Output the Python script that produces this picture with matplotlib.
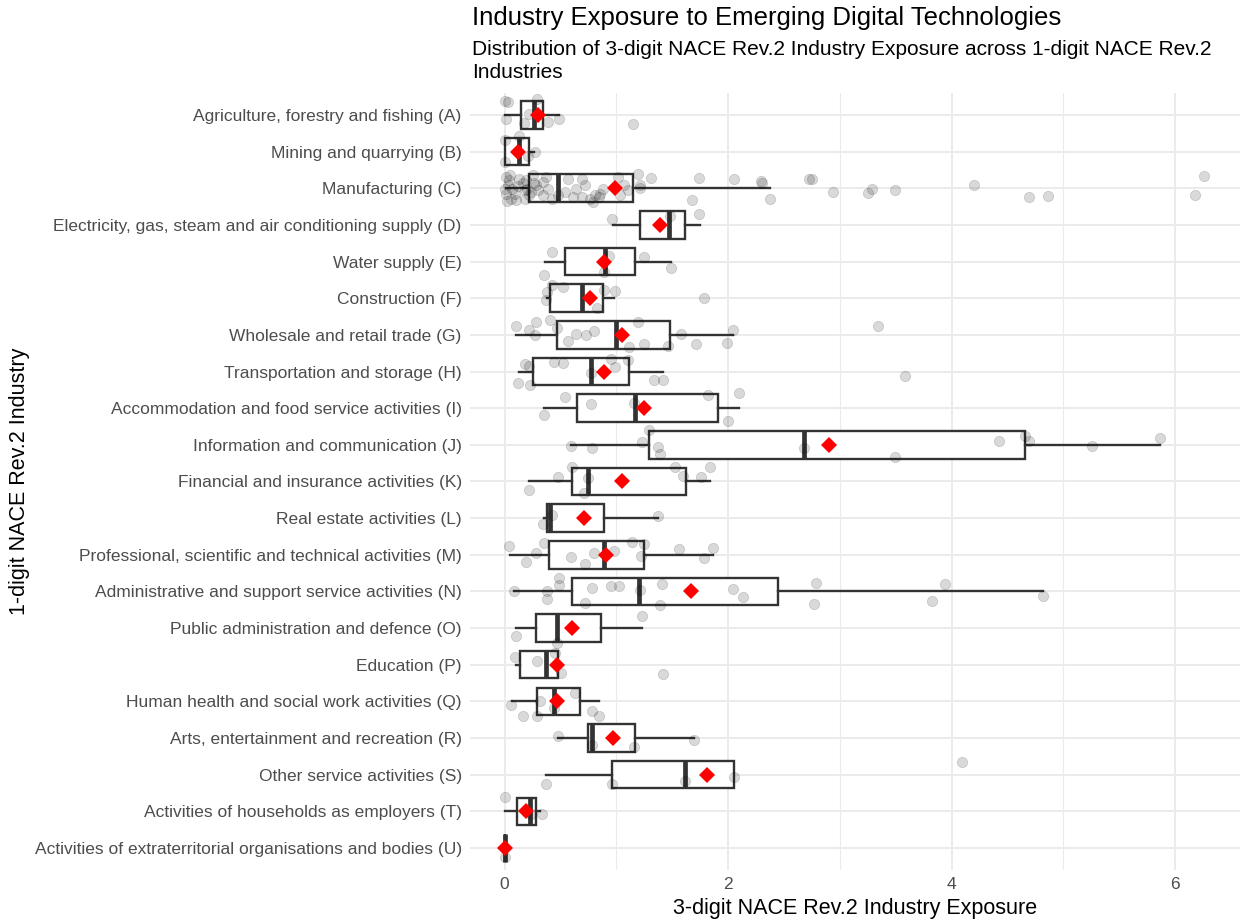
import numpy as np
import matplotlib
matplotlib.use("Agg")
import matplotlib.pyplot as plt
from matplotlib.ticker import MultipleLocator

plt.rcParams['font.family'] = ['Liberation Sans', 'DejaVu Sans']

# 1-digit NACE Rev.2 industries (top to bottom)
industries = [
    "Agriculture, forestry and fishing (A)",
    "Mining and quarrying (B)",
    "Manufacturing (C)",
    "Electricity, gas, steam and air conditioning supply (D)",
    "Water supply (E)",
    "Construction (F)",
    "Wholesale and retail trade (G)",
    "Transportation and storage (H)",
    "Accommodation and food service activities (I)",
    "Information and communication (J)",
    "Financial and insurance activities (K)",
    "Real estate activities (L)",
    "Professional, scientific and technical activities (M)",
    "Administrative and support service activities (N)",
    "Public administration and defence (O)",
    "Education (P)",
    "Human health and social work activities (Q)",
    "Arts, entertainment and recreation (R)",
    "Other service activities (S)",
    "Activities of households as employers (T)",
    "Activities of extraterritorial organisations and bodies (U)",
]

# box statistics
whis_lo = [0.00, 0.00, 0.01, 0.97, 0.36, 0.38, 0.10, 0.13, 0.35, 0.59, 0.22,
           0.35, 0.05, 0.08, 0.10, 0.10, 0.07, 0.48, 0.37, 0.00, 0.00]
q1 = [0.15, 0.00, 0.22, 1.21, 0.54, 0.41, 0.47, 0.25, 0.65, 1.29, 0.60,
      0.38, 0.40, 0.60, 0.28, 0.14, 0.29, 0.75, 0.96, 0.11, 0.00]
median = [0.26, 0.13, 0.48, 1.47, 0.90, 0.69, 1.00, 0.77, 1.17, 2.68, 0.75,
          0.41, 0.89, 1.20, 0.47, 0.37, 0.44, 0.78, 1.61, 0.23, 0.00]
q3 = [0.34, 0.22, 1.15, 1.61, 1.17, 0.88, 1.48, 1.11, 1.91, 4.66, 1.62,
      0.89, 1.25, 2.45, 0.86, 0.48, 0.67, 1.17, 2.05, 0.28, 0.00]
whis_hi = [0.49, 0.26, 2.37, 1.75, 1.49, 0.98, 2.04, 1.42, 2.10, 5.86, 1.84,
           1.37, 1.86, 4.82, 1.23, 0.48, 0.84, 1.69, 2.05, 0.32, 0.00]
means = [0.30, 0.12, 0.99, 1.39, 0.89, 0.76, 1.05, 0.89, 1.25, 2.90, 1.05,
         0.71, 0.91, 1.67, 0.60, 0.47, 0.47, 0.97, 1.81, 0.19, 0.00]

# 3-digit industry exposures (x) and their vertical jitter (dy) per industry
points_x = [
    [0.00, 0.03, 0.29, 0.01, 0.17, 0.22, 0.39, 0.49, 1.15],
    [0.00, 0.13, 0.27, 0.00, 0.21],
    [0.01, 0.04, 0.03, 0.01, 0.06, 0.10, 0.09, 0.13, 0.16, 0.18, 0.22, 0.25,
     0.28, 0.30, 0.34, 0.34, 0.37, 0.39, 0.42, 0.48, 0.54, 0.57, 0.61, 0.64,
     0.69, 0.69, 0.72, 0.76, 0.81, 0.84, 0.85, 0.88, 1.01, 1.03, 1.07, 1.10,
     1.19, 1.21, 0.00, 0.07, 0.19, 0.12, 0.20, 0.24, 0.26, 0.18, 0.05, 0.02,
     0.79, 1.21, 1.31, 1.74, 2.05, 2.29, 2.30, 2.37, 1.68, 2.72, 2.75, 2.94,
     3.25, 3.29, 3.49, 4.20, 4.69, 4.86, 6.18, 6.26],
    [0.96, 1.48, 1.74],
    [0.42, 0.93, 1.25, 1.49, 0.89, 0.35],
    [0.42, 0.52, 0.38, 0.37, 0.89, 0.99, 1.78, 0.83],
    [0.10, 0.28, 0.22, 0.27, 0.41, 0.47, 0.57, 0.64, 0.73, 0.80, 1.11, 1.19,
     1.25, 1.46, 1.58, 1.71, 1.99, 2.04, 3.34],
    [0.18, 0.22, 0.44, 0.52, 0.12, 0.23, 0.77, 0.95, 0.99, 1.10, 1.34, 1.42, 3.58],
    [0.54, 0.77, 0.35, 1.16, 1.82, 2.10, 2.00],
    [0.59, 0.78, 1.23, 1.29, 1.37, 1.39, 2.68, 3.49, 4.42, 4.66, 4.69, 5.26, 5.86],
    [0.60, 0.48, 0.22, 0.75, 0.71, 1.52, 1.60, 1.76, 1.84],
    [0.42, 0.34, 1.37],
    [0.04, 0.35, 0.28, 0.19, 0.59, 0.72, 0.80, 0.98, 1.14, 1.25, 1.22, 1.56, 1.78, 1.86],
    [0.08, 0.38, 0.38, 0.49, 0.49, 0.72, 0.78, 0.95, 1.02, 1.21, 1.41, 1.39,
     2.04, 2.13, 2.79, 2.77, 3.94, 3.82, 4.82],
    [0.10, 0.47, 1.23],
    [0.09, 0.29, 0.45, 0.50, 1.42],
    [0.06, 0.16, 0.29, 0.32, 0.63, 0.78, 0.84, 0.44],
    [0.48, 0.78, 1.16, 1.69],
    [0.37, 0.96, 1.61, 2.05, 4.09],
    [0.00, 0.33, 0.24],
    [0.00],
]
points_dy = [
    [-0.39, -0.34, -0.43, 0.11, 0.23, -0.03, 0.20, 0.11, 0.25],
    [-0.31, -0.42, 0.00, 0.29, 0.13],
    [-0.31, -0.22, -0.08, 0.15, 0.28, 0.33, 0.15, -0.26, -0.13, 0.05, 0.19, -0.35,
     -0.08, 0.05, -0.17, 0.19, -0.31, 0.01, 0.28, 0.19, 0.10, -0.26, 0.24, 0.01,
     -0.26, 0.24, -0.08, 0.28, 0.19, 0.24, 0.15, 0.01, -0.31, 0.19, -0.08, 0.05,
     -0.40, -0.08, 0.01, 0.01, -0.22, -0.05, 0.02, 0.10, -0.15, 0.30, -0.35, 0.35,
     0.37, 0.00, -0.28, -0.28, -0.24, -0.19, -0.13, 0.28, 0.33, -0.24, -0.24, 0.11,
     0.12, 0.01, 0.04, -0.10, 0.25, 0.21, 0.19, -0.33],
    [-0.16, -0.23, -0.30],
    [-0.27, -0.16, -0.13, 0.17, 0.29, 0.37],
    [-0.37, -0.31, -0.17, 0.05, -0.22, -0.19, -0.01, 0.28],
    [-0.25, -0.35, -0.12, 0.00, -0.41, -0.18, 0.16, -0.02, 0.00, -0.11, 0.34, -0.36,
     0.25, 0.30, -0.02, 0.25, 0.23, -0.14, -0.23],
    [-0.21, -0.16, -0.27, -0.23, 0.30, 0.36, 0.05, -0.35, -0.12, -0.32, 0.23, 0.22, 0.11],
    [-0.31, -0.11, 0.18, -0.15, -0.35, -0.40, 0.34],
    [0.02, 0.09, -0.09, -0.41, 0.07, 0.25, 0.09, 0.32, -0.10, -0.25, -0.11, 0.02, -0.18],
    [-0.39, -0.11, 0.23, -0.09, 0.32, -0.39, -0.14, -0.12, -0.39],
    [-0.08, 0.15, -0.05],
    [-0.24, -0.33, -0.06, 0.21, 0.07, 0.24, -0.06, -0.11, -0.35, -0.29, 0.04, -0.15, 0.08, -0.19],
    [0.00, -0.02, 0.22, -0.38, -0.17, 0.31, -0.08, -0.14, -0.14, -0.05, -0.19, 0.38,
     -0.06, 0.15, -0.24, 0.33, -0.19, 0.27, 0.13],
    [0.21, 0.40, -0.33],
    [-0.22, -0.10, -0.33, 0.22, 0.24],
    [0.09, 0.40, 0.40, 0.00, -0.24, 0.27, 0.40, 0.18],
    [-0.05, 0.20, 0.25, 0.04],
    [0.25, 0.26, 0.16, 0.06, -0.34],
    [-0.39, 0.06, 0.06],
    [0.24],
]

GRID = "#EBEBEB"
BOX = "#333333"

fig = plt.figure(figsize=(12.5, 9.22), dpi=100)
ax = fig.add_axes([0.376, 0.0564, 0.616, 0.8428])

pos = np.arange(1, len(industries) + 1)
stats = []
for i in range(len(industries)):
    stats.append(dict(whislo=whis_lo[i], q1=q1[i], med=median[i], q3=q3[i],
                      whishi=whis_hi[i], label=industries[i]))

ax.bxp(stats, positions=pos, widths=0.75, orientation='horizontal',
       showfliers=False, showcaps=False, patch_artist=True,
       boxprops=dict(facecolor="white", edgecolor=BOX, linewidth=1.7),
       whiskerprops=dict(color=BOX, linewidth=1.7),
       medianprops=dict(color=BOX, linewidth=3.4, solid_capstyle='butt'),
       zorder=2)

# jittered 3-digit industries
for i in range(len(industries)):
    xs = np.array(points_x[i])
    ys = pos[i] + np.array(points_dy[i])
    ax.scatter(xs, ys, s=55, color="black", alpha=0.15, linewidths=0.6, zorder=3)

# industry means
ax.plot(means, pos, linestyle="none", marker="D", markersize=8.3,
        color="red", markeredgewidth=0, zorder=4)

ax.set_xlim(-0.31, 6.58)
ax.set_ylim(len(industries) + 0.6, 0.4)
ax.set_yticks(pos)
ax.set_yticklabels(industries)
ax.xaxis.set_major_locator(MultipleLocator(2))
ax.xaxis.set_minor_locator(MultipleLocator(1))

ax.set_axisbelow(True)
ax.grid(True, which="major", color=GRID, linewidth=1.4)
ax.grid(True, which="minor", axis="x", color=GRID, linewidth=0.8)
for s in ax.spines.values():
    s.set_visible(False)
ax.tick_params(which="both", length=0, labelsize=12.5, labelcolor="#4D4D4D")
ax.tick_params(axis="y", pad=6)
ax.tick_params(axis="x", pad=5)

fig.text(0.5 * (0.376 + 0.992), 1 - 908 / 922, "3-digit NACE Rev.2 Industry Exposure",
         ha="center", va="center", fontsize=15.5)
fig.text(20 / 1250, 1 - 481 / 922, "1-digit NACE Rev.2 Industry",
         ha="center", va="center", rotation=90, fontsize=15.5)

fig.text(472 / 1250, 1 - 25 / 922, "Industry Exposure to Emerging Digital Technologies",
         ha="left", va="baseline", fontsize=18.5)
fig.text(472 / 1250, 1 - 55 / 922,
         "Distribution of 3-digit NACE Rev.2 Industry Exposure across 1-digit NACE Rev.2",
         ha="left", va="baseline", fontsize=15)
fig.text(472 / 1250, 1 - 78 / 922, "Industries", ha="left", va="baseline", fontsize=15)

fig.savefig("out.png", dpi=100)
